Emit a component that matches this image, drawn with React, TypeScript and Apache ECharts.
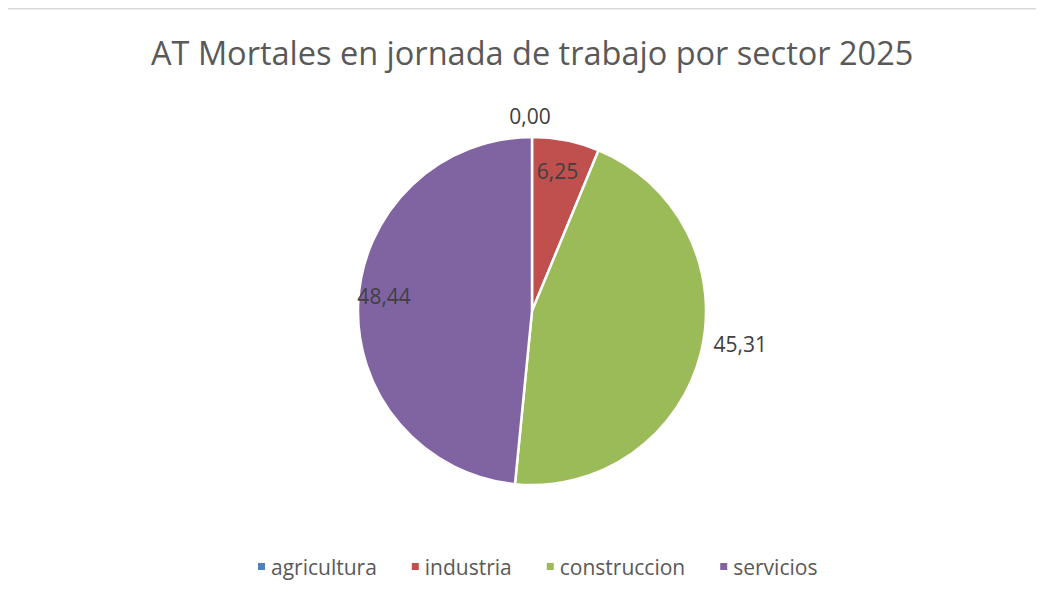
import React, { useEffect, useRef } from "react";
import * as echarts from "echarts";

const titleText = "AT Mortales en jornada de trabajo por sector 2025";
const categories = ["agricultura", "industria", "construccion", "servicios"];
const values = [0.0, 6.25, 45.31, 48.44];
const colors = ["#4F81BD", "#C0504D", "#9BBB59", "#8064A2"];
const labelOffsets: [number, number][] = [
  [-2, -105],
  [8, -52],
  [121, 11],
  [-58, -11],
];

const FONT = "'Open Sans', 'Noto Sans', sans-serif";

export default function App() {
  const ref = useRef<HTMLDivElement>(null);
  useEffect(() => {
    if (!ref.current) return;
    const chart = echarts.init(ref.current, undefined, { renderer: "svg" });
    chart.setOption({
      animation: false,
      backgroundColor: "#ffffff",
      title: {
        text: titleText,
        left: 138,
        top: 23,
        textStyle: { fontFamily: FONT, fontSize: 32.5, fontWeight: "normal", color: "#595959" },
      },
      legend: {
        bottom: 13,
        left: 243,
        icon: "rect",
        itemWidth: 9,
        itemHeight: 9,
        itemGap: 33,
        data: categories,
        textStyle: { fontFamily: FONT, fontSize: 21, color: "#595959" },
      },
      graphic: [
        {
          type: "rect",
          shape: { x: -1, y: 0.5, width: 3000, height: 3000 },
          style: { fill: "none", stroke: "#d9d9d9", lineWidth: 2 },
          silent: true,
        },
      ],
      series: [
        {
          type: "pie",
          center: [524, 303],
          radius: [0, 174],
          startAngle: 90,
          clockwise: true,
          avoidLabelOverlap: false,
          itemStyle: { borderColor: "#ffffff", borderWidth: 2.5 },
          labelLine: { show: false },
          data: categories.map((name, i) => ({
            name,
            value: values[i],
            itemStyle: { color: colors[i] },
            label: {
              show: true,
              position: "inside",
              offset: labelOffsets[i],
              formatter: () => values[i].toFixed(2).replace(".", ","),
              fontFamily: FONT,
              fontSize: 21,
              color: "#404040",
            },
          })),
        },
      ],
    });
    return () => chart.dispose();
  }, []);
  return <div ref={ref} style={{ width: 1036, height: 587 }} />;
}
